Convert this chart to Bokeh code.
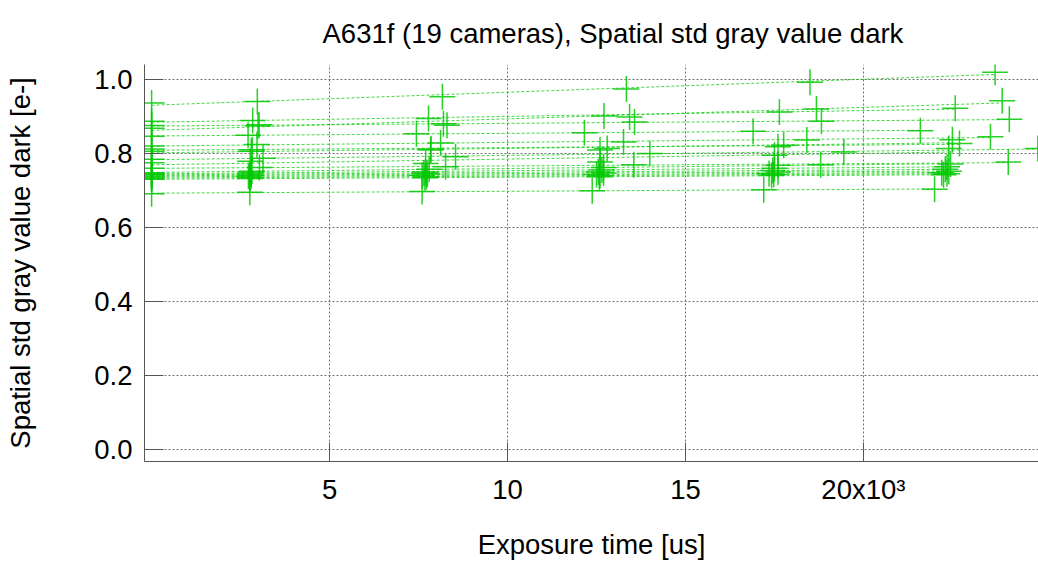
import numpy as np
from bokeh.plotting import figure
from bokeh.models import FixedTicker, Range1d, ColumnDataSource
from bokeh.embed import file_html
from bokeh.resources import INLINE

# Exposure times [us] and spatial std gray value dark [e-] for 19 cameras
cam_x = [
    [0, 2970, 8170, 13340, 18500, 23700],
    [0, 2840, 7780, 12710, 17640, 22580],
    [0, 2990, 8200, 13430, 18680, 23900],
    [0, 3020, 8300, 13570, 18820, 24100],
    [0, 2710, 7440, 12160, 16900, 21600],
    [0, 2960, 8120, 13260, 18410, 23570],
    [0, 2800, 7840, 12600, 17600, 22500],
    [0, 2830, 7850, 12800, 17760, 22700],
    [0, 2770, 7700, 12600, 17500, 22400],
    [0, 3130, 8540, 14000, 19450, 24900],
    [0, 3030, 8260, 13550, 18800, 24070],
    [0, 2760, 7600, 12380, 17200, 22000],
    [0, 2790, 7700, 12650, 17500, 22350],
    [0, 2750, 7650, 12550, 17450, 22300],
    [0, 2800, 7750, 12700, 17600, 22400],
    [0, 2720, 7600, 12500, 17350, 22200],
    [0, 2780, 7720, 12600, 17480, 22350],
    [0, 2760, 7680, 12580, 17420, 22250],
    [0, 2820, 7800, 12700, 17600, 22450],
]
cam_y = [
    [0.936, 0.940, 0.953, 0.974, 0.992, 1.019],
    [0.887, 0.889, 0.894, 0.901, 0.912, 0.922],
    [0.868, 0.874, 0.880, 0.898, 0.920, 0.942],
    [0.875, 0.877, 0.876, 0.885, 0.887, 0.892],
    [0.846, 0.849, 0.853, 0.856, 0.860, 0.861],
    [0.820, 0.824, 0.828, 0.831, 0.836, 0.845],
    [0.806, 0.806, 0.809, 0.809, 0.818, 0.837],
    [0.812, 0.810, 0.812, 0.813, 0.822, 0.827],
    [0.775, 0.779, 0.773, 0.777, 0.795, 0.813],
    [0.784, 0.787, 0.791, 0.800, 0.804, 0.813],
    [0.760, 0.762, 0.764, 0.769, 0.769, 0.777],
    [0.691, 0.695, 0.697, 0.699, 0.702, 0.703],
    [0.745, 0.748, 0.750, 0.755, 0.760, 0.764],
    [0.742, 0.744, 0.747, 0.750, 0.754, 0.757],
    [0.739, 0.741, 0.744, 0.747, 0.750, 0.752],
    [0.736, 0.738, 0.741, 0.743, 0.746, 0.748],
    [0.733, 0.735, 0.737, 0.740, 0.743, 0.745],
    [0.730, 0.732, 0.734, 0.737, 0.740, 0.742],
    [0.748, 0.752, 0.757, 0.762, 0.768, 0.771],
]
x_ticks = [5000, 10000, 15000, 20000]
x_tick_labels = ["5", "10", "15", "20x10\u00b3"]
y_ticks = [0.0, 0.2, 0.4, 0.6, 0.8, 1.0]

FONT = "Liberation Sans"
GREEN = "#00c800"

p = figure(width=1038, height=562, output_backend="svg", toolbar_location=None,
           x_range=Range1d(-200, 24920), y_range=Range1d(-0.032, 1.040),
           min_border_left=144, min_border_right=0, min_border_top=62,
           min_border_bottom=100)
p.outline_line_color = None
p.background_fill_color = "white"
p.border_fill_color = "white"

p.title.text = "A631f (19 cameras), Spatial std gray value dark"
p.title.text_font = FONT
p.title.text_font_size = "27.5px"
p.title.text_font_style = "normal"
p.title.align = "left"
p.title.offset = 178
p.title.standoff = 31
p.title.text_color = "black"

# fit lines
for xs, ys in zip(cam_x, cam_y):
    xa = np.array(xs, dtype=float)
    ya = np.array(ys, dtype=float)
    k, b = np.polyfit(xa, ya, 1)
    xl = [xa.min(), xa.max()]
    yl = [k * xl[0] + b, k * xl[1] + b]
    p.line(xl, yl, line_color=GREEN, line_width=1, line_dash="3 2", line_alpha=0.75)

all_x = [v for xs in cam_x for v in xs]
all_y = [v for ys in cam_y for v in ys]
src = ColumnDataSource(dict(x=all_x, y=all_y))
p.scatter("x", "y", source=src, marker="cross", size=26, line_color=GREEN,
          line_width=1.5, line_alpha=0.85)

p.xaxis.ticker = FixedTicker(ticks=x_ticks)
p.xaxis.major_label_overrides = {t: l for t, l in zip(x_ticks, x_tick_labels)}
p.yaxis.ticker = FixedTicker(ticks=y_ticks)
p.yaxis.major_label_overrides = {t: f"{t:.1f}" for t in y_ticks}
p.xgrid.ticker = FixedTicker(ticks=x_ticks)
p.ygrid.ticker = FixedTicker(ticks=y_ticks)

for ax in (p.xaxis[0], p.yaxis[0]):
    ax.major_tick_in = 19
    ax.major_tick_out = 0
    ax.minor_tick_line_color = None
    ax.axis_line_color = "#555555"
    ax.major_tick_line_color = "#555555"
    ax.major_label_text_font = FONT
    ax.major_label_text_font_size = "27.5px"
    ax.major_label_text_color = "black"
    ax.axis_label_text_font = FONT
    ax.axis_label_text_font_size = "27.5px"
    ax.axis_label_text_font_style = "normal"
    ax.axis_label_text_color = "black"

p.xaxis.axis_label = "Exposure time [us]"
p.yaxis.axis_label = "Spatial std gray value dark [e-]"
p.xaxis.major_label_standoff = 12
p.xaxis.axis_label_standoff = 21
p.yaxis.major_label_standoff = 12
p.yaxis.axis_label_standoff = 55

for g in (p.xgrid[0], p.ygrid[0]):
    g.grid_line_color = "#707070"
    g.grid_line_dash = "2 2"
    g.grid_line_width = 1

open("out.html", "w").write(file_html(p, INLINE))
